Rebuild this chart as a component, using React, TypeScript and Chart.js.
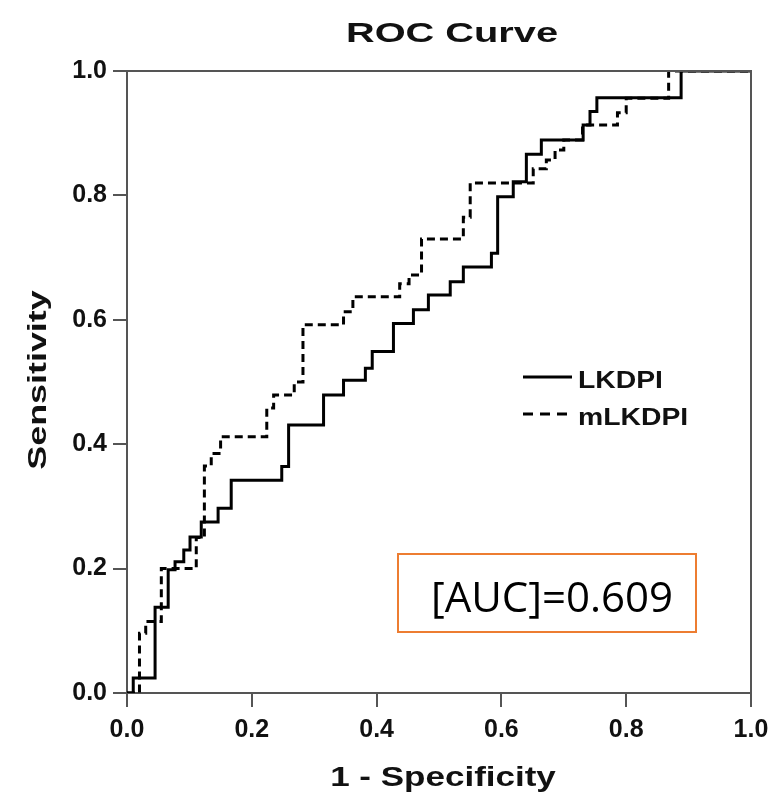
import React, { useEffect, useRef } from "react";
import { Chart, registerables } from "chart.js";

Chart.register(...registerables);

const chartTitle = "ROC Curve";
const xAxisTitle = "1 - Specificity";
const yAxisTitle = "Sensitivity";
const aucText = "[AUC]=0.609";
const tickValues = [0, 0.2, 0.4, 0.6, 0.8, 1.0];

const lkdpiLabel = "LKDPI";
const lkdpiX = [0, 0.010, 0.045, 0.066, 0.077, 0.091, 0.101, 0.119, 0.146, 0.167, 0.248, 0.259, 0.315, 0.347, 0.382, 0.393, 0.427, 0.459, 0.483, 0.518, 0.539, 0.584, 0.594, 0.619, 0.640, 0.664, 0.731, 0.742, 0.753, 0.888, 1.0];
const lkdpiY = [0, 0.024, 0.138, 0.198, 0.211, 0.230, 0.251, 0.275, 0.297, 0.342, 0.364, 0.431, 0.479, 0.503, 0.522, 0.549, 0.594, 0.616, 0.640, 0.661, 0.685, 0.707, 0.798, 0.822, 0.866, 0.889, 0.913, 0.935, 0.957, 1.0, 1.0];

const mlkdpiLabel = "mLKDPI";
const mlkdpiX = [0, 0.020, 0.030, 0.055, 0.111, 0.124, 0.135, 0.150, 0.224, 0.235, 0.268, 0.282, 0.347, 0.362, 0.437, 0.452, 0.472, 0.539, 0.550, 0.651, 0.672, 0.686, 0.700, 0.730, 0.786, 0.800, 0.868, 1.0];
const mlkdpiY = [0, 0.096, 0.115, 0.200, 0.250, 0.365, 0.385, 0.412, 0.458, 0.479, 0.500, 0.592, 0.613, 0.637, 0.658, 0.672, 0.730, 0.765, 0.820, 0.843, 0.857, 0.873, 0.889, 0.913, 0.933, 0.956, 1.0, 1.0];

const AXIS_COLOR = "#555555";
const TICK_FONT = { family: "'Liberation Sans', Arial, sans-serif", size: 25, weight: "bold" as const };

function stretchText(ctx: CanvasRenderingContext2D, text: string, x: number, y: number, sx: number, align: CanvasTextAlign, rot = 0) {
  ctx.save();
  ctx.translate(x, y);
  if (rot) ctx.rotate(rot);
  ctx.scale(sx, 1);
  ctx.textAlign = align;
  ctx.textBaseline = "alphabetic";
  ctx.fillText(text, 0, 0);
  ctx.restore();
}

const decorPlugin = {
  id: "decor",
  afterDraw(chart: any) {
    const ctx: CanvasRenderingContext2D = chart.ctx;
    const a = chart.chartArea;
    ctx.save();
    ctx.strokeStyle = AXIS_COLOR;
    ctx.lineWidth = 2;
    ctx.beginPath();
    ctx.moveTo(a.left, a.top);
    ctx.lineTo(a.right, a.top);
    ctx.lineTo(a.right, a.bottom);
    ctx.stroke();

    ctx.fillStyle = "#111";
    ctx.font = "bold 28px 'Liberation Sans', Arial, sans-serif";
    stretchText(ctx, chartTitle, 452, 42, 1.42, "center");
    stretchText(ctx, xAxisTitle, 443, 786, 1.25, "center");
    ctx.font = "bold 26px 'Liberation Sans', Arial, sans-serif";
    stretchText(ctx, yAxisTitle, 46, 380, 1.38, "center", -Math.PI / 2);

    const ds = chart.data.datasets;
    const rows = [377, 414];
    ds.forEach((d: any, i: number) => {
      ctx.save();
      ctx.strokeStyle = d.borderColor;
      ctx.lineWidth = 3;
      ctx.setLineDash(d.borderDash && d.borderDash.length ? [10, 7] : []);
      ctx.beginPath();
      ctx.moveTo(523, rows[i]);
      ctx.lineTo(572, rows[i]);
      ctx.stroke();
      ctx.restore();
      ctx.fillStyle = "#111";
      ctx.font = "bold 24px 'Liberation Sans', Arial, sans-serif";
      stretchText(ctx, d.label, 578, rows[i] + 11, 1.18, "left");
    });

    ctx.strokeStyle = "#ED7D31";
    ctx.lineWidth = 2;
    ctx.setLineDash([]);
    ctx.strokeRect(398, 554, 298, 78);
    ctx.fillStyle = "#000";
    ctx.font = "42px 'Open Sans', sans-serif";
    ctx.textAlign = "center";
    ctx.fillText(aucText, 552, 612);
    ctx.restore();
  },
};

export default function App() {
  const ref = useRef<HTMLCanvasElement | null>(null);
  useEffect(() => {
    if (!ref.current) return;
    const chart = new Chart(ref.current, {
      type: "line",
      data: {
        datasets: [
          {
            label: lkdpiLabel,
            data: lkdpiX.map((x, i) => ({ x, y: lkdpiY[i] })),
            borderColor: "#000000",
            borderWidth: 3,
            stepped: "before",
            pointRadius: 0,
            fill: false,
            borderDash: [],
          },
          {
            label: mlkdpiLabel,
            data: mlkdpiX.map((x, i) => ({ x, y: mlkdpiY[i] })),
            borderColor: "#000000",
            borderWidth: 3,
            stepped: "before",
            pointRadius: 0,
            fill: false,
            borderDash: [8, 5],
          },
        ],
      },
      options: {
        animation: false,
        responsive: false,
        devicePixelRatio: 1,
        layout: { padding: { top: 71, right: 26, left: 0, bottom: 0 } },
        plugins: { legend: { display: false }, tooltip: { enabled: false }, title: { display: false } },
        scales: {
          x: {
            type: "linear",
            min: 0,
            max: 1,
            afterBuildTicks: (s: any) => { s.ticks = tickValues.map((v) => ({ value: v })); },
            afterFit: (s: any) => { s.height = 101; },
            ticks: { font: TICK_FONT, color: "#111", padding: 8, maxRotation: 0, autoSkip: false, callback: (v: any) => Number(v).toFixed(1) },
            grid: { display: true, drawOnChartArea: false, drawTicks: true, tickLength: 14, color: AXIS_COLOR, lineWidth: 2 },
            border: { display: true, color: AXIS_COLOR, width: 2 },
          },
          y: {
            type: "linear",
            min: 0,
            max: 1,
            afterBuildTicks: (s: any) => { s.ticks = tickValues.map((v) => ({ value: v })); },
            afterFit: (s: any) => { s.width = 127; },
            ticks: { font: TICK_FONT, color: "#111", padding: 6, autoSkip: false, callback: (v: any) => Number(v).toFixed(1) },
            grid: { display: true, drawOnChartArea: false, drawTicks: true, tickLength: 14, color: AXIS_COLOR, lineWidth: 2 },
            border: { display: true, color: AXIS_COLOR, width: 2 },
          },
        },
      },
      plugins: [decorPlugin],
    } as any);
    return () => chart.destroy();
  }, []);
  return (
    <div style={{ position: "absolute", left: 0, top: 0, width: 777, height: 794, background: "#fff" }}>
      <canvas ref={ref} width={777} height={794} style={{ width: 777, height: 794, display: "block" }} />
    </div>
  );
}
